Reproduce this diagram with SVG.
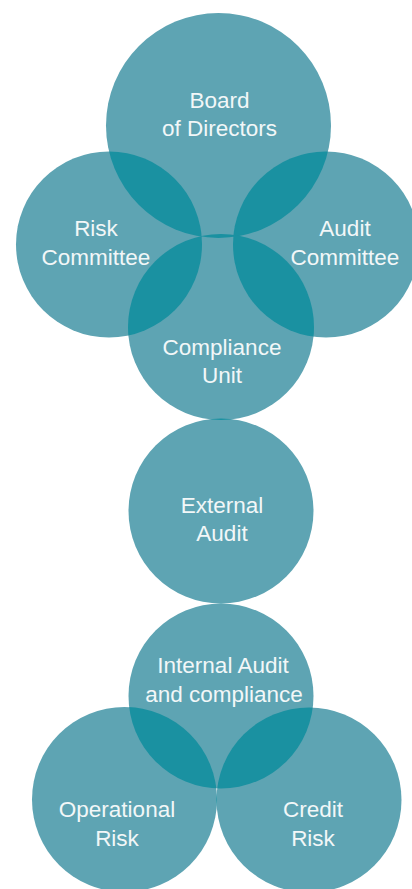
<svg xmlns="http://www.w3.org/2000/svg" width="412" height="889" viewBox="0 0 412 889">
<style>
.c{fill:#5ea4b3}
.o{fill:#1a91a1}
text{font-family:"Liberation Sans",Arial,sans-serif;font-size:22.5px;fill:#f2f7f8;text-anchor:middle}
</style>
<defs>
<clipPath id="kBoard"><circle cx="218.5" cy="125.5" r="112.5"/></clipPath>
<clipPath id="kRisk"><circle cx="109" cy="244.5" r="93"/></clipPath>
<clipPath id="kAudit"><circle cx="326" cy="244.5" r="93"/></clipPath>
<clipPath id="kComp"><circle cx="221" cy="327" r="93"/></clipPath>
<clipPath id="kExt"><circle cx="221" cy="511" r="92.5"/></clipPath>
<clipPath id="kInt"><circle cx="221" cy="696" r="92.5"/></clipPath>
<clipPath id="kOp"><circle cx="124.5" cy="799.5" r="92.5"/></clipPath>
</defs>
<g id="board"><circle class="c" cx="218.5" cy="125.5" r="112.5"/></g>
<g id="risk-committee"><circle class="c" cx="109" cy="244.5" r="93"/></g>
<g id="audit-committee"><circle class="c" cx="326" cy="244.5" r="93"/></g>
<g id="compliance-unit"><circle class="c" cx="221" cy="327" r="93"/></g>
<g id="external-audit"><circle class="c" cx="221" cy="511" r="92.5"/></g>
<g id="internal-audit"><circle class="c" cx="221" cy="696" r="92.5"/></g>
<g id="operational-risk"><circle class="c" cx="124.5" cy="799.5" r="92.5"/></g>
<g id="credit-risk"><circle class="c" cx="309" cy="800" r="92.5"/></g>
<g id="connectors">
<circle class="o" clip-path="url(#kBoard)" cx="109" cy="244.5" r="93"/>
<circle class="o" clip-path="url(#kBoard)" cx="326" cy="244.5" r="93"/>
<circle class="o" clip-path="url(#kBoard)" cx="221" cy="327" r="93"/>
<circle class="o" clip-path="url(#kRisk)" cx="221" cy="327" r="93"/>
<circle class="o" clip-path="url(#kAudit)" cx="221" cy="327" r="93"/>
<circle class="o" clip-path="url(#kComp)" cx="221" cy="511" r="92.5"/>
<circle class="o" clip-path="url(#kExt)" cx="221" cy="696" r="92.5"/>
<circle class="o" clip-path="url(#kInt)" cx="124.5" cy="799.5" r="92.5"/>
<circle class="o" clip-path="url(#kInt)" cx="309" cy="800" r="92.5"/>
<circle class="o" clip-path="url(#kOp)" cx="309" cy="800" r="92.5"/>
</g>
<g id="labels">
<text x="219.5" y="108">Board</text>
<text x="219.5" y="136">of Directors</text>
<text x="96" y="236">Risk</text>
<text x="96" y="265">Committee</text>
<text x="345" y="236">Audit</text>
<text x="345" y="265">Committee</text>
<text x="222" y="355">Compliance</text>
<text x="222" y="383">Unit</text>
<text x="222" y="513">External</text>
<text x="222" y="541">Audit</text>
<text x="223" y="673">Internal Audit</text>
<text x="224" y="702">and compliance</text>
<text x="117" y="817">Operational</text>
<text x="117" y="846">Risk</text>
<text x="313" y="817">Credit</text>
<text x="313" y="846">Risk</text>
</g>
</svg>
